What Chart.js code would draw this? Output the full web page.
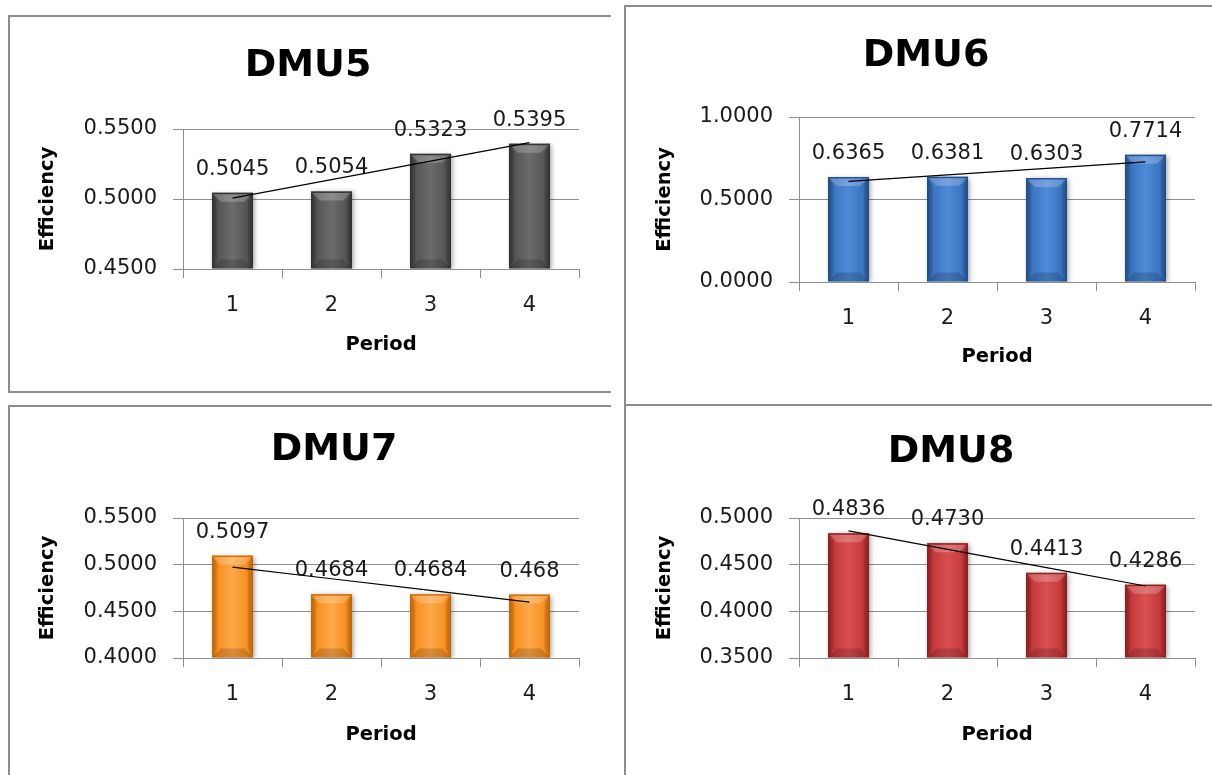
<!DOCTYPE html>
<html>
<head>
<meta charset="utf-8">
<script src="https://cdn.jsdelivr.net/npm/chart.js@4.4.1/dist/chart.umd.min.js"></script>
<style>
  html, body { margin: 0; padding: 0; background: #ffffff; }
  body { width: 1212px; height: 775px; position: relative; overflow: hidden; }
  canvas { position: absolute; }
  .frame { position: absolute; box-sizing: border-box; border: 2px solid #8c8c8c; pointer-events: none; }
</style>
</head>
<body>
<canvas id="c5"></canvas>
<canvas id="c6"></canvas>
<canvas id="c7"></canvas>
<canvas id="c8"></canvas>

<div class="frame" style="left:8px;top:15px;width:603px;height:378px;border-right:none;"></div>
<div class="frame" style="left:624px;top:5px;width:600px;height:401px;border-right:none;"></div>
<div class="frame" style="left:8px;top:405px;width:603px;height:400px;border-right:none;border-bottom:none;"></div>
<div class="frame" style="left:624px;top:404px;width:600px;height:400px;border-right:none;border-bottom:none;"></div>

<script>
// Periods on the x axis
const periods = ['1', '2', '3', '4'];

// Efficiency scores per period (as printed above each bar)
const dmu5 = ['0.5045', '0.5054', '0.5323', '0.5395'];
const dmu6 = ['0.6365', '0.6381', '0.6303', '0.7714'];
const dmu7 = ['0.5097', '0.4684', '0.4684', '0.468'];
const dmu8 = ['0.4836', '0.4730', '0.4413', '0.4286'];

// Value-axis ticks for each panel
const ticks5 = [0.45, 0.50, 0.55];
const ticks6 = [0.0, 0.5, 1.0];
const ticks7 = [0.40, 0.45, 0.50, 0.55];
const ticks8 = [0.35, 0.40, 0.45, 0.50];

const FONT = '"DejaVu Sans", Verdana, sans-serif';
const GRID = '#8e8e8e';
const TEXT = '#1a1a1a';
const BAR_PCT = 0.415;
const AXIS_TITLE_SIZE = 19.5;

Chart.defaults.font.family = FONT;

// Ordinary least-squares line through the period values (x = 1..n)
function linearTrend(vals) {
  const n = vals.length;
  const xs = vals.map((_, i) => i + 1);
  const mx = xs.reduce((a, b) => a + b, 0) / n;
  const my = vals.reduce((a, b) => a + b, 0) / n;
  let sxy = 0, sxx = 0;
  for (let i = 0; i < n; i++) { sxy += (xs[i] - mx) * (vals[i] - my); sxx += (xs[i] - mx) ** 2; }
  const slope = sxy / sxx;
  return xs.map(x => my + slope * (x - mx));
}

// Horizontal shading so each bar looks rounded
function barFill(p) {
  return c => {
    const chart = c.chart;
    const xs = chart.scales && chart.scales.x;
    if (c.type !== 'data' || !xs || !chart.chartArea) return p.mid;
    const cx = xs.getPixelForValue(c.dataIndex);
    const half = (chart.chartArea.width / periods.length) * BAR_PCT / 2;
    const g = chart.ctx.createLinearGradient(cx - half, 0, cx + half, 0);
    g.addColorStop(0, p.dark);
    g.addColorStop(0.14, p.mid);
    g.addColorStop(0.5, p.light);
    g.addColorStop(0.86, p.mid);
    g.addColorStop(1, p.dark);
    return g;
  };
}

// Drop shadow under the bars and a bevel on their top and bottom
const barShade = {
  id: 'barShade',
  beforeDatasetDraw(chart, args) {
    if (chart.data.datasets[args.index].type !== 'bar') return;
    const ctx = chart.ctx;
    ctx.save();
    ctx.shadowColor = 'rgba(0,0,0,0.35)';
    ctx.shadowBlur = 5;
    ctx.shadowOffsetX = 2;
    ctx.shadowOffsetY = 1;
  },
  afterDatasetDraw(chart, args) {
    const ds = chart.data.datasets[args.index];
    if (ds.type !== 'bar') return;
    const ctx = chart.ctx;
    ctx.restore();
    args.meta.data.forEach(el => {
      const { x, y, base, width } = el.getProps(['x', 'y', 'base', 'width'], true);
      const l = x - width / 2, r = x + width / 2, t = y, b = base;
      const bv = Math.min(9, (b - t) / 2);
      ctx.save();
      // top bevel
      ctx.beginPath();
      ctx.moveTo(l, t); ctx.lineTo(r, t); ctx.lineTo(r - bv, t + bv); ctx.lineTo(l + bv, t + bv); ctx.closePath();
      ctx.fillStyle = 'rgba(255,255,255,0.22)';
      ctx.fill();
      // bottom bevel
      ctx.beginPath();
      ctx.moveTo(l, b); ctx.lineTo(r, b); ctx.lineTo(r - bv, b - bv); ctx.lineTo(l + bv, b - bv); ctx.closePath();
      ctx.fillStyle = 'rgba(0,0,0,0.16)';
      ctx.fill();
      // side bevels
      ctx.beginPath();
      ctx.moveTo(l, t); ctx.lineTo(l + bv * 0.6, t + bv); ctx.lineTo(l + bv * 0.6, b - bv); ctx.lineTo(l, b); ctx.closePath();
      ctx.moveTo(r, t); ctx.lineTo(r - bv * 0.6, t + bv); ctx.lineTo(r - bv * 0.6, b - bv); ctx.lineTo(r, b); ctx.closePath();
      ctx.fillStyle = 'rgba(0,0,0,0.10)';
      ctx.fill();
      // top edge
      ctx.fillStyle = ds.edgeColor;
      ctx.fillRect(l, t, width, 1.5);
      ctx.restore();
    });
  }
};

// Value printed above each bar
const barLabels = {
  id: 'barLabels',
  afterDatasetsDraw(chart) {
    const ctx = chart.ctx;
    chart.data.datasets.forEach((ds, di) => {
      if (ds.type !== 'bar') return;
      chart.getDatasetMeta(di).data.forEach((el, i) => {
        ctx.save();
        ctx.font = '21px ' + FONT;
        ctx.fillStyle = TEXT;
        ctx.textAlign = 'center';
        ctx.textBaseline = 'alphabetic';
        ctx.fillText(ds.valueText[i], el.x, el.y - 18);
        ctx.restore();
      });
    });
  }
};

// Panel heading
const panelTitle = {
  id: 'panelTitle',
  afterDraw(chart, args, opts) {
    const ctx = chart.ctx;
    ctx.save();
    ctx.font = 'bold 38px ' + FONT;
    ctx.fillStyle = '#000000';
    ctx.textAlign = 'center';
    ctx.textBaseline = 'middle';
    ctx.fillText(opts.text, opts.x, opts.y);
    ctx.restore();
  }
};

function buildChart(id, title, values, yTicks, palette, geo) {
  const nums = values.map(Number);
  const canvas = document.getElementById(id);
  canvas.width = geo.w;
  canvas.height = geo.h;
  canvas.style.left = geo.x + 'px';
  canvas.style.top = geo.y + 'px';
  const yAxisW = geo.area.l - geo.x;
  const xAxisH = geo.y + geo.h - geo.area.b;
  const halfLine = AXIS_TITLE_SIZE * 1.2 / 2;

  new Chart(canvas, {
    data: {
      labels: periods,
      datasets: [
        {
          type: 'line',
          data: linearTrend(nums),
          borderColor: '#000000',
          borderWidth: 1.2,
          pointRadius: 0,
          fill: false,
          tension: 0,
          order: 0
        },
        {
          type: 'bar',
          data: nums,
          base: yTicks[0],
          valueText: values,
          edgeColor: palette.dark,
          backgroundColor: barFill(palette),
          borderWidth: 0,
          categoryPercentage: 1,
          barPercentage: BAR_PCT,
          order: 1
        }
      ]
    },
    options: {
      responsive: false,
      animation: false,
      devicePixelRatio: 1,
      events: [],
      layout: {
        padding: { top: geo.area.t - geo.y, left: 0, right: geo.x + geo.w - geo.area.r, bottom: 0 }
      },
      plugins: {
        legend: { display: false },
        tooltip: { enabled: false },
        panelTitle: { text: title, x: geo.title.x - geo.x, y: geo.title.y - geo.y }
      },
      scales: {
        x: {
          offset: true,
          grid: { drawOnChartArea: false, drawTicks: true, tickLength: 9, color: GRID, offset: true },
          border: { color: GRID },
          ticks: { color: TEXT, padding: 15, font: { size: 21 } },
          title: {
            display: true, text: 'Period', color: '#000000',
            font: { size: AXIS_TITLE_SIZE, weight: 'bold' },
            padding: { top: 0, bottom: geo.y + geo.h - geo.periodY - halfLine }
          },
          afterFit: s => { s.height = xAxisH; }
        },
        y: {
          min: yTicks[0],
          max: yTicks[yTicks.length - 1],
          afterBuildTicks: s => { s.ticks = yTicks.map(v => ({ value: v })); },
          grid: { color: GRID, tickLength: 10 },
          border: { color: GRID },
          ticks: { color: TEXT, padding: 16, font: { size: 21 }, callback: v => Number(v).toFixed(4) },
          title: {
            display: true, text: 'Efficiency', color: '#000000',
            font: { size: AXIS_TITLE_SIZE, weight: 'bold' },
            padding: { top: geo.effX - geo.x - halfLine, bottom: 0 }
          },
          afterFit: s => { s.width = yAxisW; }
        }
      }
    },
    plugins: [barShade, barLabels, panelTitle]
  });
}

const GRAY   = { dark: '#363636', mid: '#545454', light: '#6c6c6c' };
const BLUE   = { dark: '#25538f', mid: '#3a74c0', light: '#4f8ad8' };
const ORANGE = { dark: '#d46f0a', mid: '#f68f1e', light: '#fda94a' };
const RED    = { dark: '#962223', mid: '#c43839', light: '#d95050' };

buildChart('c5', 'DMU5', dmu5, ticks5, GRAY, {
  x: 10, y: 17, w: 599, h: 375,
  area: { l: 183, r: 579, t: 129, b: 269 },
  title: { x: 308, y: 66 }, effX: 48, periodY: 345
});
buildChart('c6', 'DMU6', dmu6, ticks6, BLUE, {
  x: 626, y: 7, w: 586, h: 397,
  area: { l: 799, r: 1195, t: 117, b: 282 },
  title: { x: 926, y: 56 }, effX: 665, periodY: 357
});
buildChart('c7', 'DMU7', dmu7, ticks7, ORANGE, {
  x: 10, y: 407, w: 599, h: 368,
  area: { l: 183, r: 579, t: 518, b: 658 },
  title: { x: 334, y: 450 }, effX: 48, periodY: 735
});
buildChart('c8', 'DMU8', dmu8, ticks8, RED, {
  x: 626, y: 406, w: 586, h: 369,
  area: { l: 799, r: 1195, t: 518, b: 658 },
  title: { x: 951, y: 452 }, effX: 665, periodY: 735
});
</script>
</body>
</html>
